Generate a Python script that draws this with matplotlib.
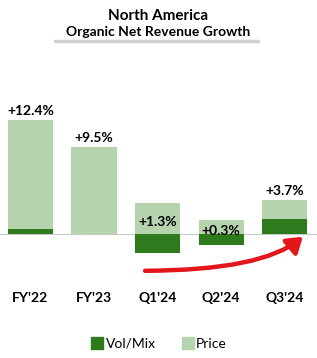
import matplotlib
matplotlib.use("Agg")
import matplotlib.pyplot as plt
from matplotlib.patches import FancyArrowPatch
from matplotlib.lines import Line2D

periodos = ["FY'22", "FY'23", "Q1'24", "Q2'24", "Q3'24"]
vol_mix = [0.5, 0.0, -2.1, -1.2, 1.6]
precio = [11.9, 9.5, 3.4, 1.5, 2.1]
totales = ["+12.4%", "+9.5%", "+1.3%", "+0.3%", "+3.7%"]

VERDE_OSC = "#2E7B1E"
VERDE_CLA = "#B5D3AD"
ROJO = "#E3161B"

plt.rcParams["font.family"] = ["Lato", "DejaVu Sans"]

W, H = 317, 358
fig = plt.figure(figsize=(W / 100, H / 100), dpi=100)
ax = fig.add_axes([0, 1 - 280 / H, 1, 220 / H])

x = list(range(len(periodos)))
ancho = 0.71
# Vol/Mix desde la base; precio apilado encima de la parte positiva
base_precio = [max(v, 0) for v in vol_mix]
ax.bar(x, vol_mix, width=ancho, color=VERDE_OSC, zorder=3)
ax.bar(x, precio, width=ancho, bottom=base_precio, color=VERDE_CLA, zorder=2)
ax.axhline(0, color="#C8C8C8", lw=0.8, zorder=1)

for i in x:
    tope = base_precio[i] + precio[i]
    total = vol_mix[i] + precio[i]
    if vol_mix[i] < 0:
        ax.text(i, total, totales[i], ha="center", va="center",
                fontsize=10, fontweight="bold", zorder=4)
    else:
        ax.annotate(totales[i], (i, tope), xytext=(0, 2),
                    textcoords="offset points", ha="center", va="bottom",
                    fontsize=10, fontweight="bold", zorder=4)

ax.set_xlim(-0.48, 4.51)
ax.set_ylim(-5.0, 18.9)
ax.set_xticks(x)
ax.set_xticklabels(periodos, fontsize=10, fontweight="bold")
ax.tick_params(axis="x", length=0, pad=9)
ax.set_yticks([])
for s in ax.spines.values():
    s.set_visible(False)

# Flecha roja curva (Q1 -> Q3): arranque plano y subida al final
flecha = FancyArrowPatch((1.76, -4.0), (4.32, -0.1),
                         connectionstyle="angle3,angleA=0,angleB=42",
                         arrowstyle="-|>,head_length=9,head_width=6",
                         color=ROJO, lw=3.2, zorder=5)
ax.add_patch(flecha)

# Titulo
fig.text(0.5, 1 - 16 / H, "North America", ha="center", va="center",
         fontsize=11, fontweight="bold")
fig.text(0.5, 1 - 32 / H, "Organic Net Revenue Growth", ha="center",
         va="center", fontsize=10, fontweight="bold")
fig.add_artist(Line2D([55 / W, 258 / W], [1 - 41 / H, 1 - 41 / H],
                      color="#CFCFCF", lw=2.5, solid_capstyle="round"))

# Leyenda
ax.legend(handles=[Line2D([], [], marker="s", ls="", color=VERDE_OSC,
                          markersize=8, label="Vol/Mix"),
                   Line2D([], [], marker="s", ls="", color=VERDE_CLA,
                          markersize=8, label="Price")],
          loc="center", bbox_to_anchor=(0.5, 1 - 344 / H),
          bbox_transform=fig.transFigure, ncol=2, frameon=False,
          fontsize=10, handletextpad=0.1, columnspacing=1.8,
          handlelength=1.0)

fig.savefig("out.png", dpi=100)
